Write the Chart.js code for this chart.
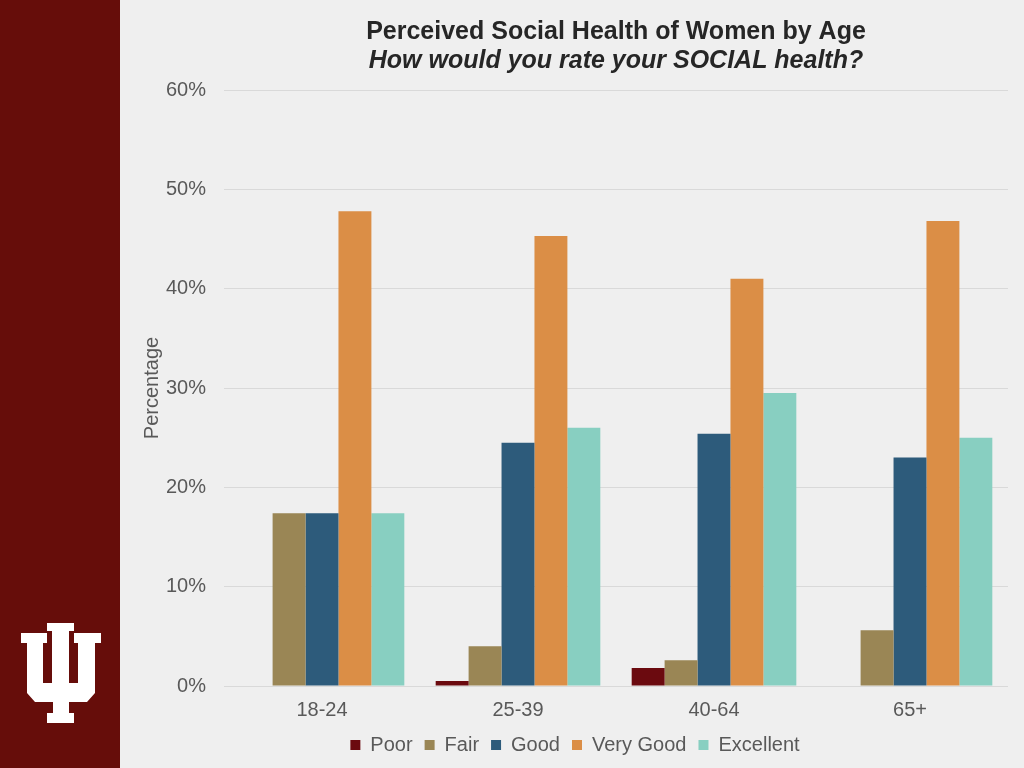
<!DOCTYPE html>
<html>
<head>
<meta charset="utf-8">
<script src="https://cdn.jsdelivr.net/npm/chart.js@4"></script>
<style>
    html, body { margin: 0; padding: 0; }
    body { width: 1024px; height: 768px; background: #efefef; position: relative; overflow: hidden; font-family: "Liberation Sans", Arial, sans-serif; }
    #band { position: absolute; left: 0; top: 0; width: 120px; height: 768px; background: #660d0a; }
    #logo { position: absolute; left: 0; top: 0; }
    #wrap { position: absolute; left: 120px; top: 0; width: 904px; height: 768px; }
</style>
</head>
<body>
<div id="band">
    <svg id="logo" width="120" height="768" viewBox="0 0 120 768">
        <polygon fill="#ffffff" points="47,623 74,623 74,631 69,631 69,683 78,683 78,643 74,643 74,633 101,633 101,643 95,643 95,693 87,702 69,702 69,713 74,713 74,723 47,723 47,713 53,713 53,702 35,702 27,693 27,643 21,643 21,633 47,633 47,643 43,643 43,683 52,683 52,631 47,631"/>
    </svg>
</div>
<div id="wrap"><canvas id="socialChart" width="904" height="768"></canvas></div>
<script>
// Perceived social health of women, by age group

const ageGroups = ['18-24', '25-39', '40-64', '65+'];
const poor = [0, 0.5, 1.8, 0];
const fair = [17.4, 4.0, 2.6, 5.6];
const good = [17.4, 24.5, 25.4, 23.0];
const veryGood = [47.8, 45.3, 41.0, 46.8];
const excellent = [17.4, 26.0, 29.5, 25.0];
const yTicks = [0, 10, 20, 30, 40, 50, 60];

const seriesNames = ['Poor', 'Fair', 'Good', 'Very Good', 'Excellent'];
const seriesData = [poor, fair, good, veryGood, excellent];
const seriesColors = ['#6b0a0f', '#9a8655', '#2d5b7b', '#db8e46', '#88cfc1'];

const textGray = '#595959';
const fontFamily = '"Liberation Sans", Arial, sans-serif';

document.addEventListener('DOMContentLoaded', () => {
    setupChart();
});

function setupChart() {
    const ctx = document.getElementById('socialChart');
    if (!ctx) return;

    new Chart(ctx, {
        type: 'bar',
        data: {
            labels: ageGroups,
            datasets: seriesData.map((values, i) => ({
                label: seriesNames[i],
                data: values,
                backgroundColor: seriesColors[i],
                borderWidth: 0,
                categoryPercentage: 0.84,
                barPercentage: 1.0
            }))
        },
        options: {
            responsive: false,
            animation: false,
            layout: {
                padding: { left: 22, right: 16, top: 0, bottom: 3 }
            },
            plugins: {
                title: {
                    display: true,
                    text: 'Perceived Social Health of Women by Age',
                    color: '#262626',
                    fullSize: false,
                    font: { family: fontFamily, size: 25, weight: 'bold', lineHeight: 1.15 },
                    padding: { top: 17.5, bottom: 0 }
                },
                subtitle: {
                    display: true,
                    text: 'How would you rate your SOCIAL health?',
                    color: '#262626',
                    fullSize: false,
                    font: { family: fontFamily, size: 25, weight: 'bold', style: 'italic', lineHeight: 1.15 },
                    padding: { top: 0, bottom: 15 }
                },
                legend: {
                    position: 'bottom',
                    labels: {
                        color: textGray,
                        boxWidth: 10,
                        boxHeight: 10,
                        padding: 12,
                        font: { family: fontFamily, size: 20 }
                    }
                },
                tooltip: { enabled: false }
            },
            scales: {
                x: {
                    afterFit: (scale) => {
                        scale.height = 37;
                    },
                    grid: { display: false, drawTicks: false },
                    border: { display: false },
                    ticks: {
                        color: textGray,
                        padding: 12,
                        font: { family: fontFamily, size: 20 }
                    }
                },
                y: {
                    min: 0,
                    max: 60,
                    afterBuildTicks: (scale) => {
                        scale.ticks = yTicks.map(v => ({ value: v }));
                    },
                    afterFit: (scale) => {
                        scale.width = 82;
                    },
                    grid: { color: '#d9d9d9', drawTicks: false, lineWidth: 1 },
                    border: { display: false },
                    ticks: {
                        color: textGray,
                        padding: 18,
                        font: { family: fontFamily, size: 20 },
                        callback: (v) => v + '%'
                    },
                    title: {
                        display: true,
                        text: 'Percentage',
                        color: textGray,
                        padding: { top: -2, bottom: 0 },
                        font: { family: fontFamily, size: 20 }
                    }
                }
            }
        }
    });
}
</script>
</body>
</html>
